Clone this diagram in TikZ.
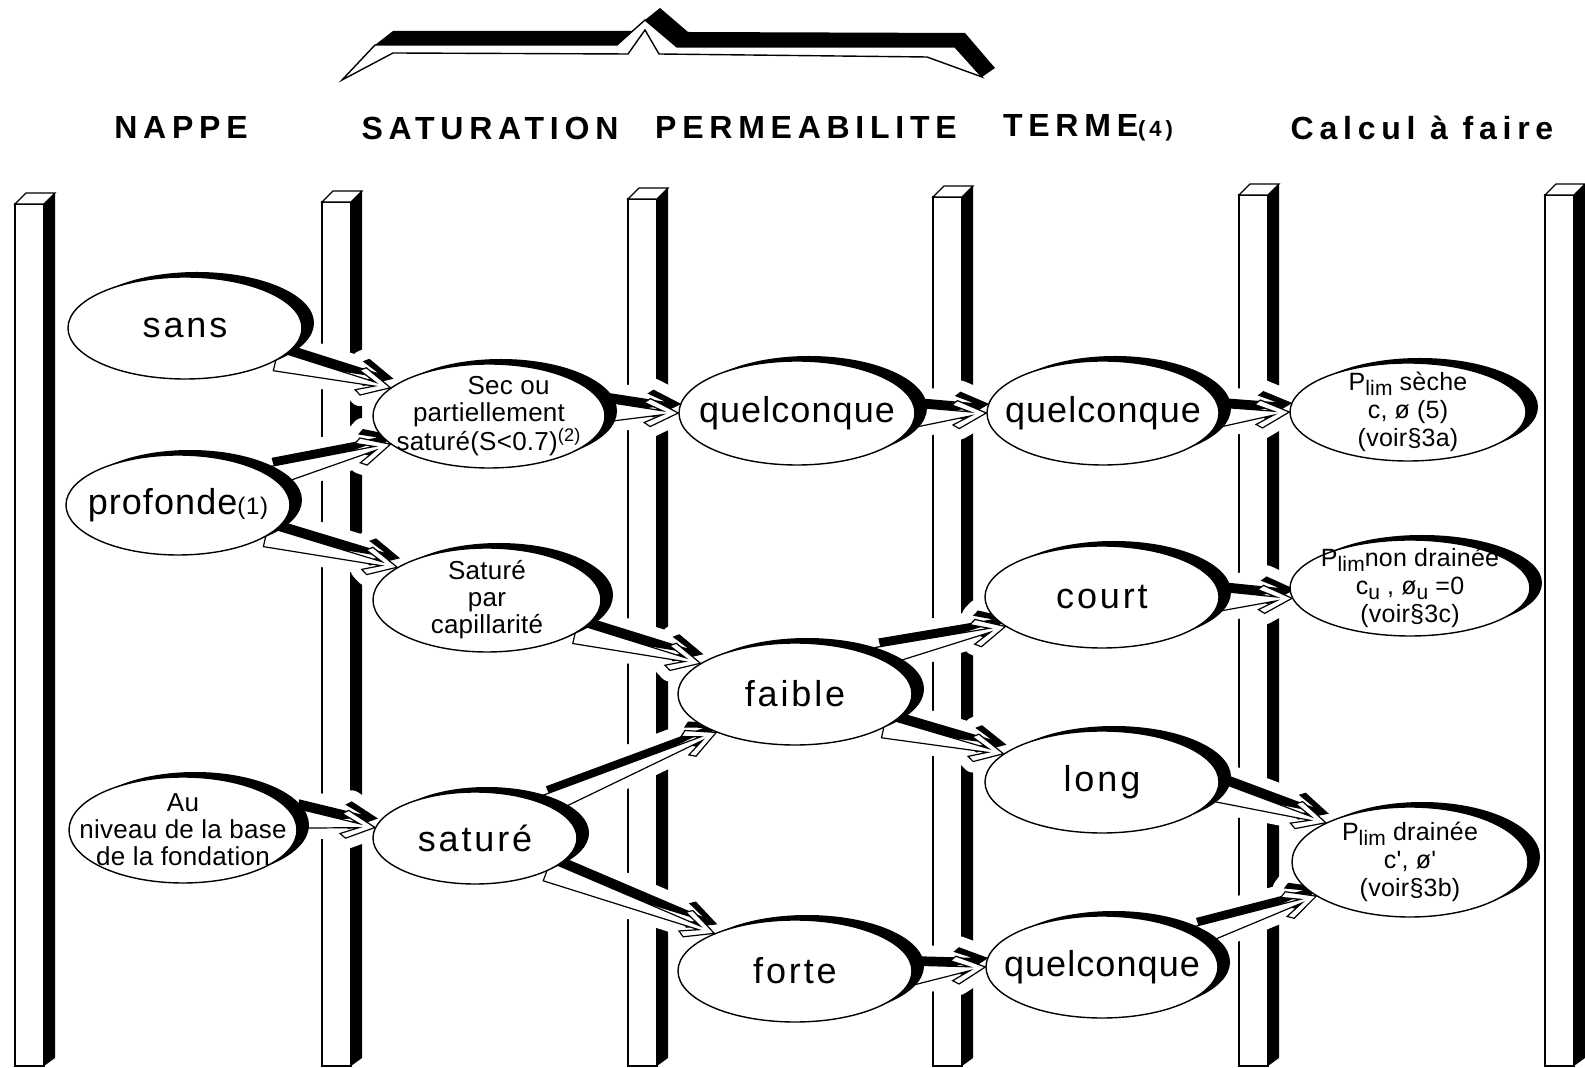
\documentclass[tikz,border=0pt]{standalone}
\usepackage{fontspec}
\setmainfont{Liberation Sans}
\newfontfamily\titrefont[LetterSpace=18]{Liberation Sans}
\newfontfamily\grosfont[LetterSpace=8]{Liberation Sans}
\newfontfamily\serrefont[LetterSpace=3]{Liberation Sans}
\newfontfamily\petitfont[LetterSpace=1]{Liberation Sans}
\usetikzlibrary{shapes.geometric,shadows,calc}
\pgfdeclarelayer{fond}
\pgfdeclarelayer{fleches}
\pgfsetlayers{fond,fleches,main}
\tikzset{bulle/.style={ellipse, draw=black, line width=0.7pt, fill=white, inner xsep=-24pt, inner ysep=-16pt, align=center,
    drop shadow={shadow xshift=6pt, shadow yshift=2.5pt, fill=black, opacity=1}}}
\tikzset{gros/.style={bulle, font=\grosfont\fontsize{18}{20}\selectfont}}
\tikzset{serre/.style={bulle, font=\serrefont\fontsize{18}{20}\selectfont}}
\tikzset{petit/.style={bulle, font=\petitfont\fontsize{13}{13.5}\selectfont}}
\tikzset{calcul/.style={bulle, font=\petitfont\fontsize{12.5}{14}\selectfont}}
\tikzset{titre/.style={font=\titrefont\bfseries\fontsize{16}{18}\selectfont}}
\tikzset{forme/.style 2 args={insert path={
    ($(#1)!5pt!90:(#2)$) --
    ($(#2)!8pt!(#1)!1pt!-90:(#1)$) --
    ($(#2)!17pt!(#1)!5pt!-90:(#1)$) --
    ($(#2)!14pt!(#1)!7pt!-90:(#1)$) --
    (#2) --
    ($(#2)!14pt!(#1)!7pt!90:(#1)$) --
    ($(#2)!17pt!(#1)!5pt!90:(#1)$) --
    ($(#2)!8pt!(#1)!1pt!90:(#1)$) --
    ($(#1)!5pt!-90:(#2)$) -- cycle}}}
\newcommand{\sub}[1]{\raisebox{-0.35ex}{\fontsize{10.5}{10.5}\selectfont #1}}
\newcommand{\fleche}[2]{%
  \coordinate (fa) at (#1);
  \coordinate (fb) at (#2);
  \coordinate (ga) at ([xshift=1.5pt,yshift=4.5pt]fa);
  \coordinate (gb) at ([xshift=1.5pt,yshift=4.5pt]fb);
  \path[draw=white, line width=11pt, line join=round] [forme={ga}{gb}];
  \path[draw=white, line width=11pt, line join=round] [forme={fa}{fb}];
  \fill[black] [forme={ga}{gb}];
  \draw[line width=0.6pt, fill=white] [forme={fa}{fb}];
}

\begin{document}
\begin{tikzpicture}[x=0.5pt,y=-0.5pt]
\useasboundingbox (0,0) rectangle (1585,1068);

% accolade
\draw[line width=0.7pt, fill=white] (342,80) -- (375,45) -- (617,45) -- (645,20) -- (677,47) -- (955,47)
    -- (982,77) -- (927,57) -- (659,54) -- (645,30) -- (628,54) -- (393,53) -- cycle;
\fill[black] (375,45) -- (393,31) -- (633,31) -- (617,45) -- cycle;
\fill[black] (645,20) -- (660,8) -- (688,32) -- (965,33) -- (995,68) -- (982,77) -- (955,47) -- (677,47) -- cycle;

% titres
\node[titre] (tnappe) at (181,128) {NAPPE};
\node[titre] (tsat) at (490,128) {SATURATION};
\node[titre] (tperm) at (806,128) {PERMEABILITE};
\node[titre] (tterme) at (1088,128) {TERME{\fontsize{11}{11}\selectfont(4)}};
\node[titre] (tcalc) at (1422,128) {Calcul à faire};

% piliers
\begin{pgfonlayer}{fond}
\foreach \x/\t in {15/193, 322/191, 628/188, 933/186, 1239/184, 1545/184} {
    \draw[line width=0.6pt, fill=white] (\x,\t+11) rectangle (\x+29,1066);
    \fill[black] (\x+29,\t+11) -- (\x+40,\t) -- (\x+40,1058) -- (\x+29,1066) -- cycle;
    \draw[line width=0.6pt, fill=white] (\x,\t+11) -- (\x+11,\t) -- (\x+40,\t) -- (\x+29,\t+11) -- cycle;
}
\end{pgfonlayer}

% nappe
\node[gros, minimum width=117pt, minimum height=51pt] (sans) at (185,328) {sans};
\node[serre, minimum width=112pt, minimum height=50pt] (prof) at (178,505) {profonde{\fontsize{12}{12}\selectfont(1)}};
\node[petit, minimum width=114pt, minimum height=53pt] (au) at (183,830) {Au\\niveau de la base\\de la fondation};

% saturation
\node[petit, minimum width=116pt, minimum height=52pt] (sec) at (489,416) {\hspace*{1.5em}Sec ou\\partiellement\\saturé(S<0.7)\textsuperscript{(2)}};
\node[petit, minimum width=114pt, minimum height=52pt] (cap) at (487,600) {Saturé\\par\\capillarité};
\node[gros, minimum width=102pt, minimum height=46pt] (sat) at (475,838) {saturé};

% permeabilite
\node[serre, minimum width=118pt, minimum height=52pt] (q3) at (797,413) {quelconque};
\node[gros, minimum width=117pt, minimum height=51pt] (faib) at (795,694) {faible};
\node[gros, minimum width=117pt, minimum height=51pt] (fort) at (795,971) {forte};

% terme
\node[serre, minimum width=116pt, minimum height=52pt] (q4) at (1103,413) {quelconque};
\node[gros, minimum width=117pt, minimum height=51pt] (court) at (1102,597) {court};
\node[gros, minimum width=117pt, minimum height=51pt] (long) at (1102,782) {long};
\node[serre, minimum width=116pt, minimum height=51pt] (q4b) at (1102,967) {quelconque};

% calcul
\node[calcul, minimum width=118pt, minimum height=49pt] (seche) at (1408,412) {P\sub{lim} sèche\\c, ø (5)\\(voir§3a)};
\node[calcul, minimum width=120pt, minimum height=48pt] (nondr) at (1410,588) {P\sub{lim}non drainée\\c\sub{u} , ø\sub{u} =0\\(voir§3c)};
\node[calcul, minimum width=118pt, minimum height=55pt] (drain) at (1410,862) {P\sub{lim} drainée\\c', ø'\\(voir§3b)};

% fleches
\begin{pgfonlayer}{fleches}
\fleche{sans.-20}{sec.164}
\fleche{prof.17}{sec.-164}
\fleche{prof.-20}{cap.160}
\fleche{au.6}{sat.174}
\fleche{sec.2}{q3.180}
\fleche{cap.-21}{faib.162}
\fleche{sat.25}{faib.-154}
\fleche{sat.-25}{fort.155}
\fleche{q3.-2}{q4.180}
\fleche{faib.24}{court.-163}
\fleche{faib.-21}{long.164}
\fleche{fort.-2}{q4b.180}
\fleche{q4.-2}{seche.180}
\fleche{court.-2}{nondr.-175}
\fleche{long.-5}{drain.155}
\fleche{q4b.18}{drain.-160}
\end{pgfonlayer}
\end{tikzpicture}
\end{document}
